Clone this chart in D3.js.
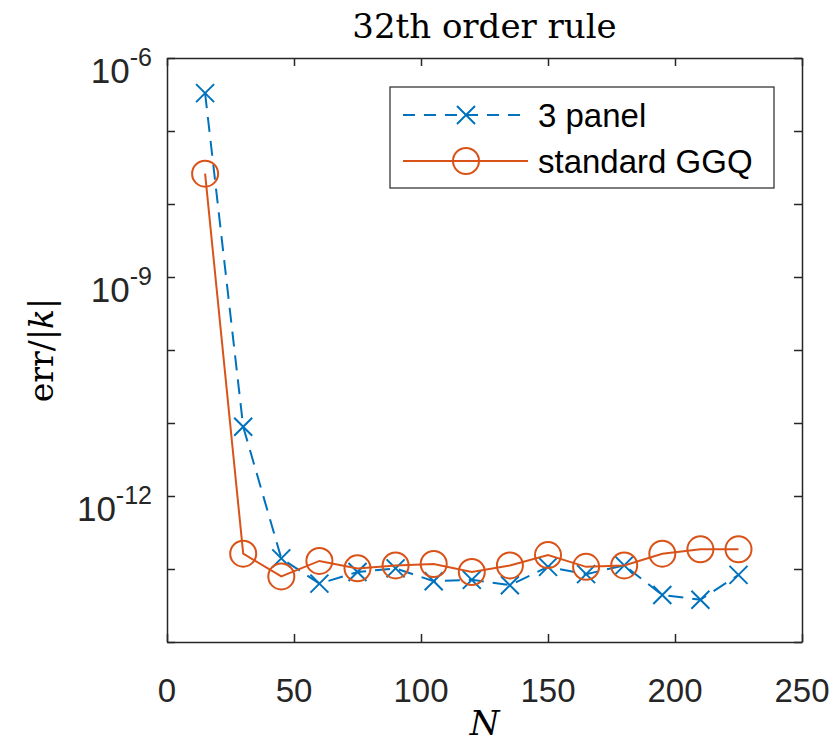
<!DOCTYPE html>
<html lang="en">
<head>
<meta charset="utf-8">
<title>32th order rule</title>
<script src="https://cdn.jsdelivr.net/npm/d3@7"></script>
<style>
  body { margin: 0; background: #fff; }
  svg { display: block; }
  .sans { font-family: "Liberation Sans", Arial, Helvetica, sans-serif; fill: #262626; }
  .serif { font-family: "DejaVu Serif", "Liberation Serif", serif; fill: #000; }
</style>
</head>
<body>
<div id="chart"></div>
<script>
// data
var N = [15, 30, 45, 60, 75, 90, 105, 120, 135, 150, 165, 180, 195, 210, 225];
var panel3 = [3.3e-7, 8.9e-12, 1.4e-13, 6.3e-14, 9.1e-14, 1.02e-13, 6.8e-14, 7.1e-14,
              6.0e-14, 1.07e-13, 8.5e-14, 1.12e-13, 4.4e-14, 3.8e-14, 8.3e-14];
var standardGGQ = [2.6e-8, 1.62e-13, 7.9e-14, 1.29e-13, 1.02e-13, 1.12e-13, 1.17e-13, 9.1e-14,
                   1.12e-13, 1.55e-13, 1.07e-13, 1.12e-13, 1.62e-13, 1.86e-13, 1.86e-13];
var xTicks = [0, 50, 100, 150, 200, 250];
var yTicks = [1e-14, 1e-13, 1e-12, 1e-11, 1e-10, 1e-9, 1e-8, 1e-7, 1e-6];
var yLabelled = [-12, -9, -6];

var W = 834, H = 742;
var pL = 167, pR = 802, pT = 58, pB = 642;
var blue = '#0072BD', orange = '#D95319', axisCol = '#262626';

var svg = d3.select('#chart').append('svg')
  .attr('width', W)
  .attr('height', H);

var x = d3.scaleLinear().domain([0, 250]).range([pL, pR]);
var y = d3.scaleLog().domain([1e-14, 1e-6]).range([pB, pT]);

// box + ticks (inward, mirrored like matlab)
function styleAxis(g) {
  g.select('.domain').attr('stroke', axisCol).attr('stroke-width', 1.5);
  g.selectAll('.tick line').attr('stroke', axisCol).attr('stroke-width', 1.5);
  g.selectAll('.tick text').remove();
}
svg.append('g').attr('transform', 'translate(0,' + pB + ')')
  .call(d3.axisBottom(x).tickValues(xTicks).tickSizeInner(-8).tickSizeOuter(0)).call(styleAxis);
svg.append('g').attr('transform', 'translate(0,' + pT + ')')
  .call(d3.axisTop(x).tickValues(xTicks).tickSizeInner(-8).tickSizeOuter(0)).call(styleAxis);
svg.append('g').attr('transform', 'translate(' + pL + ',0)')
  .call(d3.axisLeft(y).tickValues(yTicks).tickSizeInner(-8).tickSizeOuter(0)).call(styleAxis);
svg.append('g').attr('transform', 'translate(' + pR + ',0)')
  .call(d3.axisRight(y).tickValues(yTicks).tickSizeInner(-8).tickSizeOuter(0)).call(styleAxis);

// x tick labels
svg.selectAll('.xlab').data(xTicks).enter().append('text')
  .attr('class', 'sans')
  .attr('x', function(d) { return x(d); })
  .attr('y', 702)
  .attr('text-anchor', 'middle')
  .style('font-size', '33px')
  .text(function(d) { return d; });

// y tick labels 10^e
yLabelled.forEach(function(e) {
  var t = svg.append('text')
    .attr('class', 'sans')
    .attr('x', 152)
    .attr('y', y(Math.pow(10, e)) + 25)
    .attr('text-anchor', 'end')
    .style('font-size', '35px');
  t.append('tspan').text('10');
  t.append('tspan').attr('dy', -17).style('font-size', '25px').text(String(e));
});

// series
var line = d3.line()
  .x(function(d) { return x(d[0]); })
  .y(function(d) { return y(d[1]); });

var bluePts = N.map(function(n, i) { return [n, panel3[i]]; });
var orangePts = N.map(function(n, i) { return [n, standardGGQ[i]]; });

svg.append('path').datum(bluePts)
  .attr('d', line)
  .attr('fill', 'none')
  .attr('stroke', blue)
  .attr('stroke-width', 2)
  .attr('stroke-dasharray', '15,9');

function cross(g, cx, cy, s) {
  g.append('path')
    .attr('d', 'M' + (cx - s) + ',' + (cy - s) + 'L' + (cx + s) + ',' + (cy + s) +
               'M' + (cx - s) + ',' + (cy + s) + 'L' + (cx + s) + ',' + (cy - s))
    .attr('stroke', blue)
    .attr('stroke-width', 2)
    .attr('fill', 'none');
}
var bm = svg.append('g');
bluePts.forEach(function(d) { cross(bm, x(d[0]), y(d[1]), 9); });

svg.append('path').datum(orangePts)
  .attr('d', line)
  .attr('fill', 'none')
  .attr('stroke', orange)
  .attr('stroke-width', 2);

svg.append('g').selectAll('circle').data(orangePts).enter().append('circle')
  .attr('cx', function(d) { return x(d[0]); })
  .attr('cy', function(d) { return y(d[1]); })
  .attr('r', 13)
  .attr('fill', 'none')
  .attr('stroke', orange)
  .attr('stroke-width', 2);

// legend
var lg = svg.append('g');
lg.append('rect')
  .attr('x', 390).attr('y', 87)
  .attr('width', 384).attr('height', 101)
  .attr('fill', '#fff')
  .attr('stroke', axisCol)
  .attr('stroke-width', 1.2);
lg.append('line')
  .attr('x1', 403).attr('x2', 528).attr('y1', 115).attr('y2', 115)
  .attr('stroke', blue).attr('stroke-width', 2).attr('stroke-dasharray', '12,9');
cross(lg, 466, 115, 9);
lg.append('line')
  .attr('x1', 403).attr('x2', 528).attr('y1', 161).attr('y2', 161)
  .attr('stroke', orange).attr('stroke-width', 2);
lg.append('circle')
  .attr('cx', 466).attr('cy', 161).attr('r', 13)
  .attr('fill', 'none').attr('stroke', orange).attr('stroke-width', 2);
lg.append('text').attr('class', 'sans').attr('x', 538).attr('y', 127)
  .style('font-size', '33px').style('fill', '#000').text('3 panel');
lg.append('text').attr('class', 'sans').attr('x', 538).attr('y', 173)
  .style('font-size', '33px').style('fill', '#000').text('standard GGQ');

// title and axis labels
svg.append('text')
  .attr('class', 'serif')
  .attr('x', (pL + pR) / 2)
  .attr('y', 38)
  .attr('text-anchor', 'middle')
  .style('font-size', '34px')
  .style('font-weight', 300)
  .text('32th order rule');

svg.append('text')
  .attr('class', 'serif')
  .attr('x', (pL + pR) / 2)
  .attr('y', 735)
  .attr('text-anchor', 'middle')
  .style('font-size', '34px')
  .style('font-style', 'italic')
  .text('N');

var yl = svg.append('text')
  .attr('class', 'serif')
  .attr('transform', 'translate(53,' + ((pT + pB) / 2) + ') rotate(-90)')
  .attr('text-anchor', 'middle')
  .style('font-size', '33px');
yl.append('tspan').text('err/|');
yl.append('tspan').style('font-style', 'italic').text('k');
yl.append('tspan').text('|');
</script>
</body>
</html>
